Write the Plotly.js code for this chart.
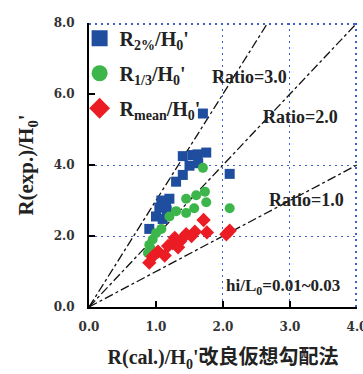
<!DOCTYPE html>
<html>
<head>
<meta charset="utf-8">
<script src="https://cdn.plot.ly/plotly-3.0.1.min.js"></script>
<style>html,body{margin:0;padding:0;background:#fff;}#chart{width:363px;height:374px;}</style>
</head>
<body>
<div id="chart"></div>
<script>
// R2%/H0' (blue squares)
const r2X = [1.70, 1.40, 1.55, 1.62, 1.75, 1.50, 1.63, 1.40, 1.30, 2.10, 1.08, 1.20, 1.15, 1.05, 1.16, 1.00, 1.10, 0.90];
const r2Y = [5.45, 4.25, 4.28, 4.30, 4.35, 3.98, 4.05, 3.72, 3.53, 3.75, 3.00, 3.05, 2.92, 2.80, 2.72, 2.55, 2.48, 2.20];
// R1/3/H0' (green circles)
const r13X = [1.70, 1.73, 1.60, 1.45, 1.75, 1.57, 1.45, 1.30, 1.20, 2.10, 1.08, 1.00, 0.95, 0.90, 0.92, 0.88];
const r13Y = [3.92, 3.25, 3.15, 3.05, 2.95, 2.78, 2.65, 2.70, 2.55, 2.78, 2.20, 2.08, 1.90, 1.75, 1.65, 1.52];
// Rmean/H0' (red diamonds)
const rmX = [1.71, 1.58, 1.76, 1.45, 1.53, 2.10, 2.05, 1.36, 1.28, 1.25, 1.18, 1.33, 1.03, 1.13, 0.95, 0.90];
const rmY = [2.45, 2.12, 2.10, 2.05, 2.00, 2.15, 2.05, 1.85, 1.95, 1.80, 1.72, 1.68, 1.56, 1.45, 1.42, 1.25];
// Reference ratio lines
const ratios = [3.0, 2.0, 1.0];
const ratioLabels = ['Ratio=3.0', 'Ratio=2.0', 'Ratio=1.0'];
const seriesNames = ["R<sub>2%</sub>/H<sub>0</sub>'", "R<sub>1/3</sub>/H<sub>0</sub>'", "R<sub>mean</sub>/H<sub>0</sub>'"];
// Axis ticks and the dotted grid positions shown in the figure
const xTicks = [0, 1, 2, 3, 4];
const yTicks = [0, 2, 4, 6, 8];
const xGrid = [2, 3, 4];
const yGrid = [2, 4, 8];
const xMax = 4, yMax = 8;

const serif = 'Liberation Serif, Times New Roman, serif';
const colors = ['#1f4e9e', '#3cb64a', '#ec1c24'];
const symbols = ['square', 'circle', 'diamond'];
const sizes = [10, 10, 11];
const dataX = [r2X, r13X, rmX];
const dataY = [r2Y, r13Y, rmY];

const traces = [];
// carrier trace for the grid overlay axes
traces.push({x: [null], y: [null], xaxis: 'x2', yaxis: 'y2', mode: 'markers', showlegend: false, hoverinfo: 'skip'});
ratios.forEach(r => {
  const xe = Math.min(xMax, yMax / r);
  traces.push({x: [0, xe], y: [0, r * xe], mode: 'lines', showlegend: false, hoverinfo: 'skip',
    line: {color: '#111', width: 1.3, dash: 'dashdot'}});
});
for (let i = 0; i < 3; i++) {
  traces.push({x: dataX[i], y: dataY[i], mode: 'markers', showlegend: false,
    marker: {symbol: symbols[i], color: colors[i], size: sizes[i]}});
}
for (let i = 0; i < 3; i++) {
  traces.push({x: [null], y: [null], mode: 'markers', name: seriesNames[i], legendgroup: 'g' + i,
    marker: {symbol: symbols[i], color: colors[i], size: 16}});
}

const tickFont = {family: 'DejaVu Serif, serif', size: 12, color: '#333', weight: 'bold'};
const annFont = {family: serif, size: 18, color: '#222', weight: 'bold'};
const gridStyle = {showgrid: true, gridcolor: '#3f5fd0', griddash: '2px,4px', gridwidth: 1.3,
  showticklabels: false, ticks: '', showline: false, zeroline: false};
const layout = {
  width: 363, height: 374,
  margin: {l: 89, r: 6, t: 23, b: 67},
  paper_bgcolor: '#fff', plot_bgcolor: '#fff',
  showlegend: true,
  legend: {x: -0.035, y: 1.015, xanchor: 'left', yanchor: 'top', bgcolor: 'rgba(0,0,0,0)',
    font: {family: serif, size: 20, color: '#222', weight: 'bold'}, tracegroupgap: 6, itemsizing: 'trace'},
  xaxis: {range: [0, xMax], tickvals: xTicks, tickformat: '.1f', showgrid: false,
    zeroline: false, showline: true, linecolor: '#000', linewidth: 2, ticks: 'inside', ticklen: 6, tickcolor: '#000', tickwidth: 1.5,
    ticklabelstandoff: 8, ticklabeloverflow: 'allow', tickfont: tickFont,
    title: {text: "R(cal.)/H<sub>0</sub>'改良仮想勾配法", standoff: 17,
      font: {family: serif + ', Noto Sans CJK JP', size: 20, color: '#222', weight: 'bold'}}},
  yaxis: {range: [0, yMax], tickvals: yTicks, tickformat: '.1f', showgrid: false,
    zeroline: false, showline: true, linecolor: '#000', linewidth: 2, ticks: 'inside', ticklen: 6, tickcolor: '#000', tickwidth: 1.5,
    ticklabelstandoff: 10, ticklabeloverflow: 'allow', tickfont: tickFont,
    title: {text: "R(exp.)/H<sub>0</sub>'", standoff: 14,
      font: {family: serif, size: 21, color: '#222', weight: 'bold'}}},
  xaxis2: Object.assign({overlaying: 'x', side: 'bottom', range: [0, xMax * 1.004], tickvals: xGrid}, gridStyle),
  yaxis2: Object.assign({overlaying: 'y', side: 'left', range: [0, yMax * 1.004], tickvals: yGrid}, gridStyle),
  annotations: [
    {x: 2.39, y: 6.48, text: ratioLabels[0], showarrow: false, font: annFont, xref: 'x', yref: 'y'},
    {x: 3.16, y: 5.35, text: ratioLabels[1], showarrow: false, font: annFont, xref: 'x', yref: 'y'},
    {x: 3.25, y: 3.01, text: ratioLabels[2], showarrow: false, font: annFont, xref: 'x', yref: 'y'},
    {x: 2.9, y: 0.56, text: 'hi/L<sub>0</sub>=0.01~0.03', showarrow: false, font: {family: serif, size: 17, color: '#222', weight: 'bold'}, xref: 'x', yref: 'y'}
  ]
};
Plotly.newPlot('chart', traces, layout, {displayModeBar: false, staticPlot: true});
</script>
</body>
</html>
